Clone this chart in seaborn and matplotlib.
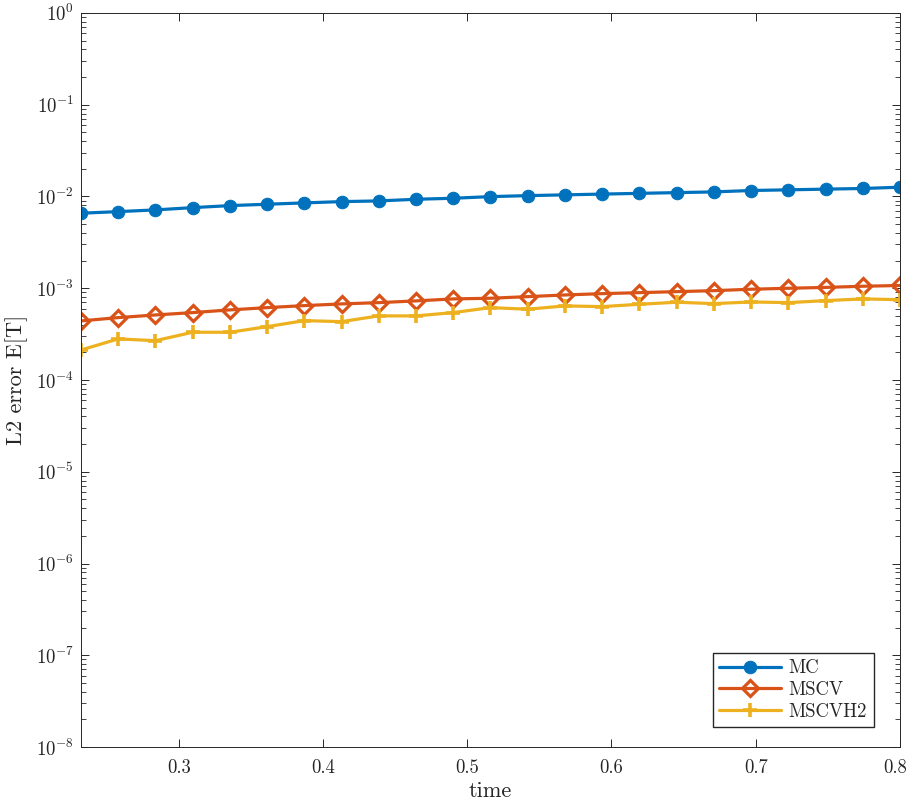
import matplotlib
matplotlib.use('Agg')
import matplotlib.pyplot as plt
import matplotlib.ticker as mticker
import matplotlib.transforms as mtransforms
import seaborn as sns
import pandas as pd

# time points (x)
time = [0.2323, 0.2581, 0.2839, 0.3097, 0.3355, 0.3613, 0.3871, 0.4129,
        0.4387, 0.4645, 0.4903, 0.5161, 0.5419, 0.5677, 0.5935, 0.6194,
        0.6452, 0.6710, 0.6968, 0.7226, 0.7484, 0.7742, 0.8000]

mc = [6.56e-3, 6.83e-3, 7.13e-3, 7.55e-3, 7.94e-3, 8.22e-3, 8.50e-3, 8.78e-3,
      8.93e-3, 9.31e-3, 9.55e-3, 9.95e-3, 1.02e-2, 1.04e-2, 1.06e-2, 1.08e-2,
      1.10e-2, 1.12e-2, 1.16e-2, 1.18e-2, 1.20e-2, 1.22e-2, 1.26e-2]

mscv = [4.40e-4, 4.78e-4, 5.11e-4, 5.42e-4, 5.80e-4, 6.14e-4, 6.46e-4, 6.74e-4,
        6.96e-4, 7.27e-4, 7.64e-4, 7.77e-4, 8.09e-4, 8.44e-4, 8.72e-4, 8.94e-4,
        9.17e-4, 9.40e-4, 9.74e-4, 9.98e-4, 1.02e-3, 1.05e-3, 1.07e-3]

mscvh2 = [2.12e-4, 2.80e-4, 2.68e-4, 3.31e-4, 3.31e-4, 3.81e-4, 4.43e-4, 4.32e-4,
          4.99e-4, 4.99e-4, 5.42e-4, 6.14e-4, 5.90e-4, 6.41e-4, 6.30e-4, 6.68e-4,
          7.03e-4, 6.79e-4, 7.08e-4, 6.96e-4, 7.32e-4, 7.64e-4, 7.50e-4]

x_ticks = [0.3, 0.4, 0.5, 0.6, 0.7, 0.8]
x_ticklabels = ["0.3", "0.4", "0.5", "0.6", "0.7", "0.8"]

sns.set_style("ticks")
plt.rcParams.update({
    "font.family": "serif",
    "font.serif": ["cmr10", "DejaVu Serif"],
    "mathtext.fontset": "cm",
    "axes.formatter.use_mathtext": True,
    "axes.edgecolor": "#262626",
    "axes.linewidth": 0.7,
    "xtick.color": "#262626",
    "ytick.color": "#262626",
    "xtick.direction": "in",
    "ytick.direction": "in",
    "xtick.top": True,
    "ytick.right": True,
})

df = pd.DataFrame({"time": time, "MC": mc, "MSCV": mscv, "MSCVH2": mscvh2})

fig = plt.figure(figsize=(9.09, 8.05), dpi=100)
ax = fig.add_axes([0.0891, 0.0720, 0.901, 0.912])

sns.lineplot(data=df, x="time", y="MC", ax=ax, color="#0072BD",
             linewidth=2.3, marker="o", markersize=9, markeredgecolor="#0072BD",
             label="MC")
sns.lineplot(data=df, x="time", y="MSCV", ax=ax, color="#D95319",
             linewidth=2.3, marker="D", markersize=8.5, markerfacecolor="none",
             markeredgecolor="#D95319", markeredgewidth=2.3, label="MSCV")
sns.lineplot(data=df, x="time", y="MSCVH2", ax=ax, color="#EDB120",
             linewidth=2.3, marker="+", markersize=10, markeredgewidth=2.6,
             markeredgecolor="#EDB120", label="MSCVH2")

ax.set_yscale("log")
ax.set_ylim(1e-8, 1e0)
ax.set_xlim(time[0], time[-1])
ax.set_xticks(x_ticks)
ax.set_xticklabels(x_ticklabels)
ax.yaxis.set_major_locator(mticker.LogLocator(base=10, numticks=20))
ax.yaxis.set_minor_locator(mticker.LogLocator(base=10, subs=range(2, 10), numticks=20))
ax.yaxis.set_minor_formatter(mticker.NullFormatter())
ax.tick_params(axis="both", which="major", labelsize=13.5, length=6, width=0.7)
ax.tick_params(axis="x", which="major", pad=9)
ax.tick_params(axis="y", which="major", pad=5)
ax.tick_params(axis="y", which="minor", length=3.5, width=0.6)
ax.tick_params(axis="both", which="both", top=True, right=True)
for s in ax.spines.values():
    s.set_visible(True)

# keep the last x label inside the figure
last = ax.get_xticklabels()[-1]
last.set_transform(last.get_transform() +
                   mtransforms.ScaledTranslation(-5 / 100, 0, fig.dpi_scale_trans))

ax.set_xlabel("time", fontsize=16, labelpad=3)
ax.set_ylabel("L2 error E[T]", fontsize=16, labelpad=6)

ax.legend(loc="lower right", bbox_to_anchor=(0.968, 0.027), borderaxespad=0,
          fontsize=13.5, frameon=True, fancybox=False, edgecolor="#262626",
          framealpha=1, handlelength=3.3, borderpad=0.35, labelspacing=0.2,
          handletextpad=0.4)

fig.savefig("out.png", dpi=100)
plt.close(fig)
